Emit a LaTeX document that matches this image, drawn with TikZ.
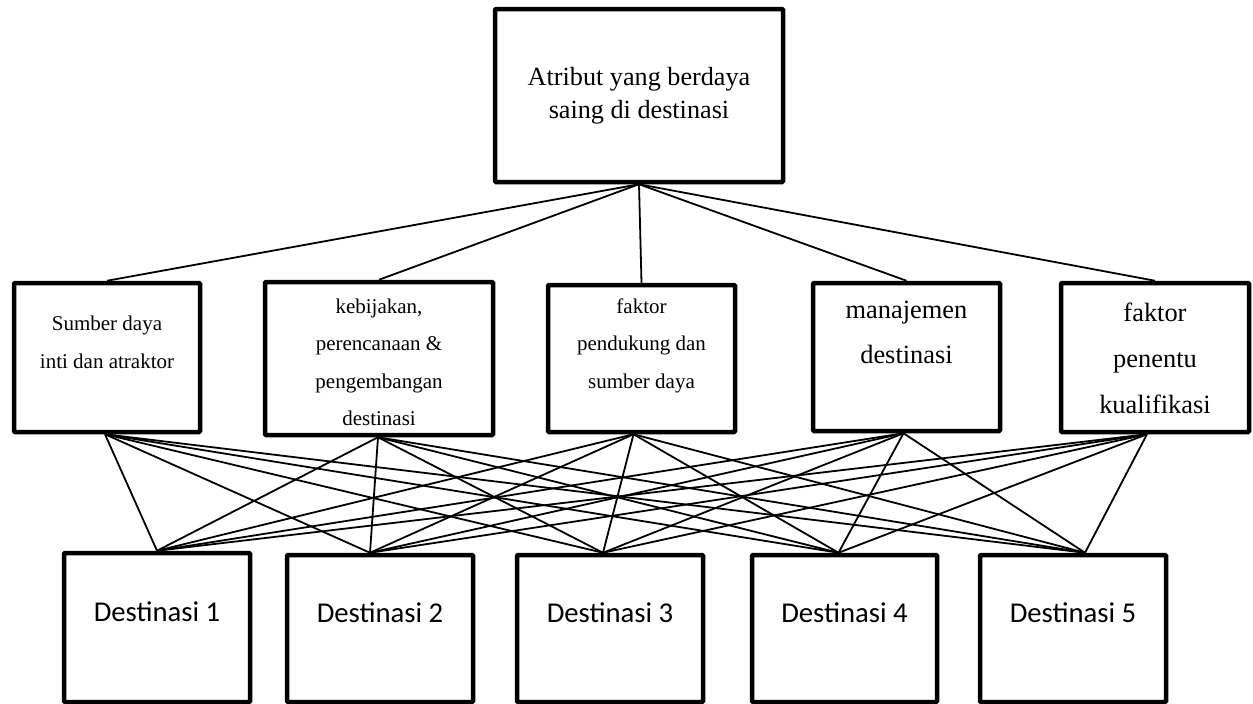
\documentclass[tikz,border=0pt]{standalone}
\usepackage{fontspec}
\setmainfont{Liberation Serif}
\newfontfamily\destfont{Carlito}
\tikzset{box/.style={draw, line width=4.5pt, rounded corners=1pt, inner sep=0pt, minimum width=186pt, minimum height=148pt}}
\tikzset{link/.style={line width=1.8pt}}
\tikzset{txt/.style={align=center, inner sep=0pt}}
\tikzset{small/.style={txt, font=\fontsize{21}{37.5}\selectfont}}
\tikzset{big/.style={txt, font=\fontsize{26.4}{46}\selectfont}}
\tikzset{dest/.style={txt, font=\destfont\fontsize{28.7}{34}\selectfont}}

\begin{document}
\begin{tikzpicture}[x=1pt, y=-1pt]
    \useasboundingbox (0,0) rectangle (1253,704);

    % goal
    \node[box, minimum width=288pt, minimum height=173pt, align=center,
          font=\fontsize{26.2}{33}\selectfont] (goal) at (639,95.5) {Atribut yang berdaya\\saing di destinasi};

    % criteria
    \node[box, minimum height=149pt] (m1) at (107,357.5) {};
    \node[box, minimum width=228pt, minimum height=153pt] (m2) at (379,358.5) {};
    \node[box, minimum width=187pt, minimum height=147pt] (m3) at (641.5,358.5) {};
    \node[box, minimum width=187pt] (m4) at (906.5,357) {};
    \node[box, minimum width=188pt, minimum height=149pt] (m5) at (1155,357.5) {};

    \node[small, yshift=15pt] (m1t) at (m1) {Sumber daya\\inti dan atraktor};
    \node[small, yshift=-4pt] (m2t) at (m2) {kebijakan,\\perencanaan \&\\pengembangan\\destinasi};
    \node[small, yshift=13pt] (m3t) at (m3) {faktor\\pendukung dan\\sumber daya};
    \node[big, yshift=24.5pt, font=\fontsize{26.4}{45}\selectfont] (m4t) at (m4) {manajemen\\destinasi};
    \node[big, yshift=-1pt] (m5t) at (m5) {faktor\\penentu\\kualifikasi};

    % alternatives
    \node[box, minimum height=149pt] (d1) at (157,627.5) {};
    \node[box, minimum height=147pt] (d2) at (380,628.5) {};
    \node[box, minimum height=147pt] (d3) at (610,628.5) {};
    \node[box, minimum width=185pt, minimum height=147pt] (d4) at (844.5,628.5) {};
    \node[box, minimum height=147pt] (d5) at (1073,628.5) {};

    \foreach \d/\n in {d1/1, d2/2, d3/3, d4/4, d5/5}
        \node[dest, yshift=16pt] (\d t) at (\d) {Destinasi \n};

    \foreach \m in {m1,m2,m3,m4,m5}
        \draw[link] (goal.south) -- (\m.north);

    \foreach \m/\ms in {m1/-2, m2/-1, m3/-8, m4/-3, m5/-8}
        \foreach \d/\ds in {d1/0, d2/-10, d3/-7, d4/-6, d5/12}
            \draw[link] ([xshift=\ms pt]\m.south) -- ([xshift=\ds pt]\d.north);
\end{tikzpicture}
\end{document}
